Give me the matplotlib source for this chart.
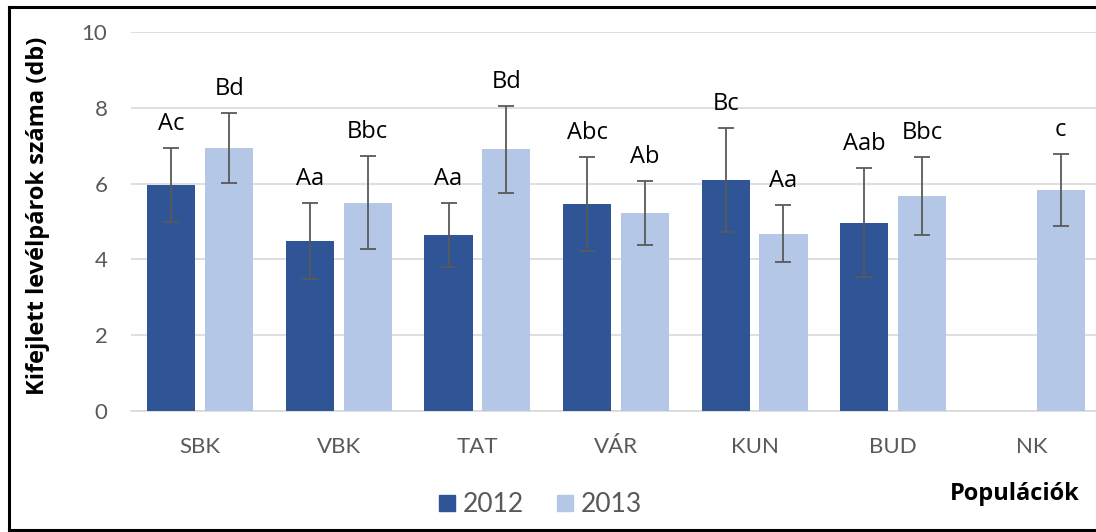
import matplotlib
matplotlib.use("Agg")
import matplotlib.pyplot as plt
import numpy as np
from matplotlib.lines import Line2D

categories = ["SBK", "VBK", "TAT", "VÁR", "KUN", "BUD", "NK"]
vals_2012 = [5.97, 4.48, 4.64, 5.46, 6.09, 4.97, np.nan]
err_2012 = [0.97, 1.00, 0.85, 1.24, 1.38, 1.43, np.nan]
vals_2013 = [6.94, 5.50, 6.90, 5.22, 4.68, 5.67, 5.83]
err_2013 = [0.92, 1.22, 1.15, 0.84, 0.76, 1.03, 0.94]
labels_2012 = ["Ac", "Aa", "Aa", "Abc", "Bc", "Aab", ""]
labels_2013 = ["Bd", "Bbc", "Bd", "Ab", "Aa", "Bbc", "c"]
yticks = [0, 2, 4, 6, 8, 10]

c2012 = "#2F5597"
c2013 = "#B4C7E7"
gray = "#595959"
font = "Lato"
font2 = "Open Sans"

W, H = 1096, 532
fig = plt.figure(figsize=(W / 100, H / 100), dpi=100)
ax = fig.add_axes([131 / W, 121 / H, 970 / W, 379 / H])

x = np.arange(len(categories))
bw = 0.347
off = (bw + 0.07) / 2
ekw = dict(ecolor=gray, elinewidth=1.3, capsize=5.5, capthick=1.3)
ax.bar(x - off, vals_2012, bw, color=c2012, yerr=err_2012, error_kw=ekw, zorder=3, label="2012")
ax.bar(x + off, vals_2013, bw, color=c2013, yerr=err_2013, error_kw=ekw, zorder=3, label="2013")

lab_off = 0.32
for i in range(len(categories)):
    if labels_2012[i] and not np.isnan(vals_2012[i]):
        ax.text(x[i] - off, vals_2012[i] + err_2012[i] + lab_off, labels_2012[i],
                ha="center", va="bottom", fontsize=17, family=font2, color="black")
    if labels_2013[i]:
        ax.text(x[i] + off, vals_2013[i] + err_2013[i] + lab_off, labels_2013[i],
                ha="center", va="bottom", fontsize=17, family=font2, color="black")

ax.set_xlim(-0.5, len(categories) - 0.5)
ax.set_ylim(0, 10)
ax.set_yticks(yticks)
ax.set_xticks(x)
ax.set_xticklabels(categories)
ax.yaxis.grid(True, color="#D9D9D9", linewidth=1.2, zorder=0)
ax.set_axisbelow(True)
for s in ["top", "right", "left"]:
    ax.spines[s].set_visible(False)
ax.spines["bottom"].set_color("#D9D9D9")
ax.spines["bottom"].set_linewidth(1.2)
ax.tick_params(axis="both", length=0, labelcolor=gray, labelsize=16)
ax.tick_params(axis="y", pad=17)
ax.tick_params(axis="x", pad=19)
for t in ax.get_xticklabels() + ax.get_yticklabels():
    t.set_family(font)

fig.text(38 / W, 1 - 216 / H, "Kifejlett levélpárok száma (db)", rotation=90,
         ha="center", va="center", fontsize=17, fontweight="bold", family=font2, color="black")
fig.text(1080 / W, 1 - 494 / H, "Populációk", ha="right", va="center",
         fontsize=17, fontweight="bold", family=font2, color="black")

handles = [Line2D([], [], marker="s", linestyle="none", markersize=11, color=c2012),
           Line2D([], [], marker="s", linestyle="none", markersize=11, color=c2013)]
leg = fig.legend(handles, ["2012", "2013"], loc="center", bbox_to_anchor=(540 / W, 1 - 505 / H),
                 ncol=2, frameon=False, handlelength=0.7, handletextpad=0.25, columnspacing=1.2,
                 prop={"family": font, "size": 19})
for t in leg.get_texts():
    t.set_color(gray)

bkw = dict(color="black", linewidth=2.2, transform=fig.transFigure, solid_capstyle="projecting")
fig.add_artist(Line2D([9 / W, 9 / W], [2 / H, 1 - 7 / H], **bkw))
fig.add_artist(Line2D([9 / W, 1.0], [1 - 7 / H, 1 - 7 / H], **bkw))
fig.add_artist(Line2D([9 / W, 1.0], [2 / H, 2 / H], **bkw))

fig.savefig("out.png", dpi=100)
